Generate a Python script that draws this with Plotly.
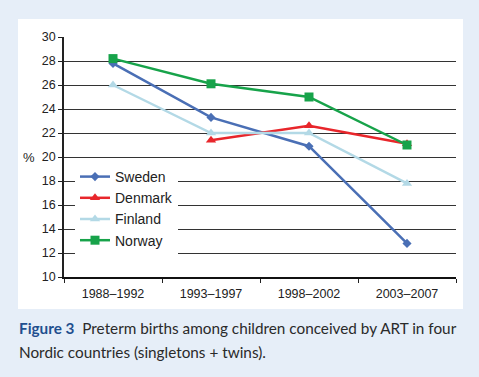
import plotly.graph_objects as go

periods = ["1988–1992", "1993–1997", "1998–2002", "2003–2007"]
sweden = [27.8, 23.3, 20.9, 12.8]
denmark = [None, 21.4, 22.6, 21.1]
finland = [26.0, 22.0, 22.0, 17.8]
norway = [28.2, 26.1, 25.0, 21.0]
y_ticks = list(range(10, 31, 2))

W, H = 479, 377
L, R, T, B = 64, 456, 37, 277

def px(x):
    return (x - L) / (R - L)

def py(y):
    return (B - y) / (B - T)

fig = go.Figure()
series = [
    ("Sweden", sweden, "#4a6fb5", "diamond", 7),
    ("Denmark", denmark, "#e8262b", "triangle-up", 9),
    ("Finland", finland, "#b3d9e6", "triangle-up", 9),
    ("Norway", norway, "#17a34a", "square", 9),
]
for name, vals, col, sym, sz in series:
    fig.add_trace(go.Scatter(
        x=periods, y=vals, name=name, mode="lines+markers",
        line=dict(color=col, width=2.5),
        marker=dict(color=col, symbol=sym, size=sz),
        connectgaps=False,
    ))

fig.add_shape(type="rect", xref="paper", yref="paper",
              x0=px(18), x1=px(463), y0=py(309), y1=py(19),
              fillcolor="white", line=dict(width=0), layer="below")

fig.add_annotation(text="%", xref="paper", yref="paper", x=px(29), y=py(157),
                   xanchor="center", yanchor="middle",
                   showarrow=False, font=dict(family="Liberation Sans, Arial", size=13, color="#222"))
fig.add_annotation(text="<b><span style='color:#1f4f8f'>Figure 3</span></b>  Preterm births among children conceived by ART in four",
                   xref="paper", yref="paper", x=px(17), y=py(328), xanchor="left", yanchor="middle",
                   showarrow=False, font=dict(family="Lato", size=15.3, color="#2a2a2a"))
fig.add_annotation(text="Nordic countries (singletons + twins).",
                   xref="paper", yref="paper", x=px(17), y=py(352), xanchor="left", yanchor="middle",
                   showarrow=False, font=dict(family="Lato", size=15.3, color="#2a2a2a"))

fig.update_layout(
    width=W, height=H,
    margin=dict(l=L, r=W - R, t=T, b=H - B),
    paper_bgcolor="#e6eef8", plot_bgcolor="white",
    font=dict(family="Liberation Sans, Arial", size=12.5, color="#222"),
    legend=dict(x=px(75), y=py(161), xanchor="left", yanchor="top",
                bgcolor="white", font=dict(size=14, color="#222"),
                tracegroupgap=0, itemwidth=30),
    showlegend=True,
)
fig.update_xaxes(type="category", range=[-0.5, 3.5], tickson="boundaries",
                 ticks="outside", ticklen=4, tickcolor="#222", ticklabelstandoff=4,
                 showline=True, linecolor="#111", linewidth=1.8,
                 showgrid=False, zeroline=False, fixedrange=True)
fig.update_yaxes(range=[10, 30], tickvals=y_ticks, ticks="outside", ticklen=4,
                 tickcolor="#222", showline=True, linecolor="#222", linewidth=1.5,
                 showgrid=True, gridcolor="#333", gridwidth=1, zeroline=False)

fig.write_html("out.html", config={"displayModeBar": False},
               post_script="document.body.style.margin='0';")
